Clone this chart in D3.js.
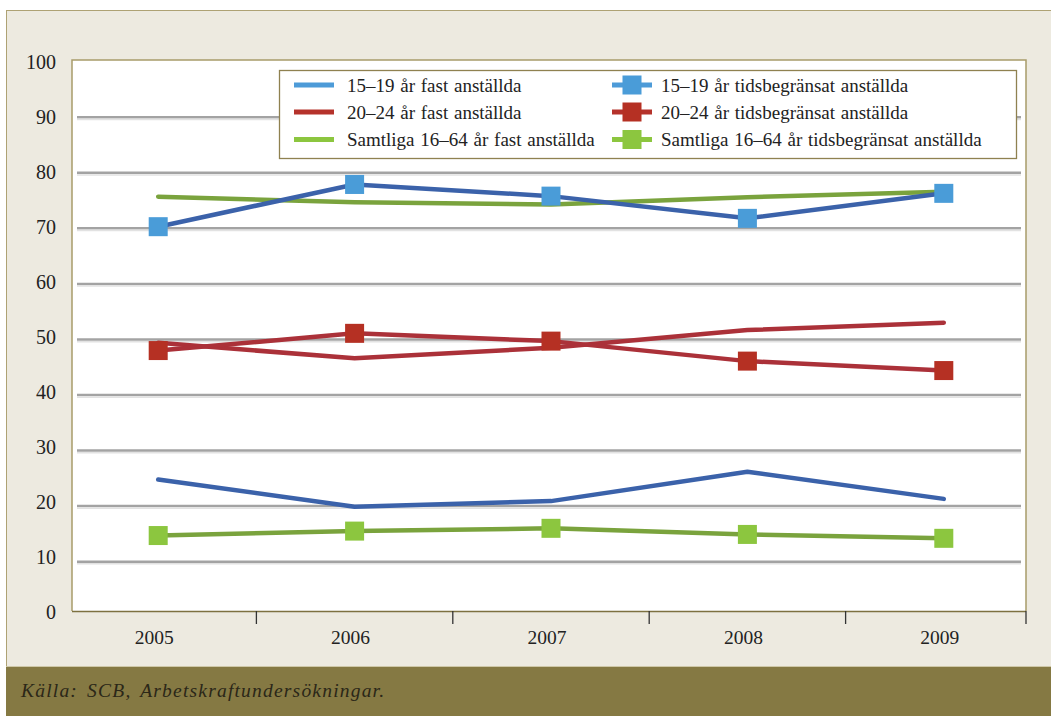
<!DOCTYPE html>
<html><head><meta charset="utf-8">
<script src="https://cdn.jsdelivr.net/npm/d3@7/dist/d3.min.js"></script>
<style>body{margin:0;background:#fff}svg{display:block}</style>
</head><body><svg id="c" width="1051" height="716"></svg>
<script>
const years = ["2005","2006","2007","2008","2009"];
const yTicks = [0,10,20,30,40,50,60,70,80,90,100];
const fast1519 = [24.8, 19.9, 20.9, 26.2, 21.3];
const tids1519 = [70.3, 77.9, 75.8, 71.8, 76.3];
const fast2024 = [49.4, 46.6, 48.5, 51.7, 53.0];
const tids2024 = [48.0, 51.1, 49.7, 46.1, 44.4];
const fastAll = [75.7, 74.7, 74.3, 75.6, 76.6];
const tidsAll = [14.7, 15.5, 16.0, 14.9, 14.2];
const seriesNames = ["15–19 år fast anställda","20–24 år fast anställda","Samtliga 16–64 år fast anställda",
  "15–19 år tidsbegränsat anställda","20–24 år tidsbegränsat anställda","Samtliga 16–64 år tidsbegränsat anställda"];
const source = "Källa: SCB, Arbetskraftundersökningar.";

const series = [
  {name: seriesNames[0], values: fast1519, line:"#3b62aa", leg:"#4d9bd8", marker:false},
  {name: seriesNames[1], values: fast2024, line:"#ab3139", leg:"#b5322b", marker:false},
  {name: seriesNames[2], values: fastAll, line:"#7aa33d", leg:"#8cc63f", marker:false},
  {name: seriesNames[3], values: tids1519, line:"#3b62aa", leg:"#4d9bd8", mk:"#4a9cd8", marker:true},
  {name: seriesNames[4], values: tids2024, line:"#ab3139", leg:"#b5322b", mk:"#b53023", marker:true},
  {name: seriesNames[5], values: tidsAll, line:"#7aa33d", leg:"#8cc63f", mk:"#8cc63f", marker:true}
];

const svg = d3.select("#c");
const font = "'Liberation Serif', 'Times New Roman', serif";

// background panel
svg.append("rect").attr("x",6.5).attr("y",10.5).attr("width",1060).attr("height",660)
  .attr("fill","#edeae0").attr("stroke","#aea274").attr("stroke-width",1);
// footer
svg.append("rect").attr("x",6).attr("y",667).attr("width",1045).attr("height",49).attr("fill","#857943");
svg.append("line").attr("x1",6).attr("x2",1051).attr("y1",666.5).attr("y2",666.5).attr("stroke","#cfc8a8");
svg.append("text").attr("x",21).attr("y",697).attr("font-family",font).attr("font-style","italic")
  .attr("font-size",19.5).attr("letter-spacing",1.2).attr("word-spacing",3).attr("fill","#2b2718").text(source);

const plot = {l:72, t:60, r:1026, b:611};
svg.append("rect").attr("x",plot.l).attr("y",plot.t).attr("width",plot.r-plot.l).attr("height",plot.b-plot.t)
  .attr("fill","#fff");
svg.append("path").attr("d",`M${plot.l},${plot.b}V${plot.t}H${plot.r}V${plot.b}`)
  .attr("fill","none").attr("stroke","#a89c6a").attr("stroke-width",1.5);

const y = d3.scaleLinear().domain([0,100]).range([617.2, 61.7]);
const yLab = d3.scaleLinear().domain([0,100]).range([612, 62]);
const x = d3.scaleBand().domain(years).range([60, 1042]).paddingInner(0).paddingOuter(0);
const cx = d => x(d) + x.bandwidth()/2;

// gridlines
const g = svg.append("g");
g.selectAll("line.grid").data(yTicks.filter(v=>v>0 && v<100)).join("line")
  .attr("x1",77).attr("x2",1021).attr("y1",d=>y(d)).attr("y2",d=>y(d))
  .attr("stroke","#a3a3a3").attr("stroke-width",2.5);
g.selectAll("line.grid2").data(yTicks.filter(v=>v>0 && v<100)).join("line")
  .attr("x1",77).attr("x2",1021).attr("y1",d=>y(d)+2.2).attr("y2",d=>y(d)+2.2)
  .attr("stroke","#e2e2e2").attr("stroke-width",1.5);

// y labels
svg.selectAll("text.yl").data(yTicks).join("text")
  .attr("x",56).attr("y",d=>yLab(d)).attr("dy","0.35em").attr("text-anchor","end")
  .attr("font-family",font).attr("font-size",20).attr("fill","#222").text(d=>d);

// x axis
svg.append("line").attr("x1",plot.l).attr("x2",plot.r).attr("y1",plot.b+0.5).attr("y2",plot.b+0.5)
  .attr("stroke","#7d7140").attr("stroke-width",1.5);
const tickX = years.slice(1).map(d=>x(d)).concat([plot.r]);
svg.selectAll("line.xt").data(tickX).join("line")
  .attr("x1",d=>d).attr("x2",d=>d).attr("y1",plot.b).attr("y2",plot.b+13)
  .attr("stroke","#333").attr("stroke-width",1.3);
svg.selectAll("text.xl").data(years).join("text")
  .attr("x",d=>cx(d)-4).attr("y",637).attr("dy","0.35em").attr("text-anchor","middle")
  .attr("font-family",font).attr("font-size",19.5).attr("fill","#222").text(d=>d);

// lines
const line = d3.line().x((d,i)=>cx(years[i])).y(d=>y(d));
series.forEach(s=>{
  svg.append("path").datum(s.values).attr("d",line).attr("fill","none")
    .attr("stroke",s.line).attr("stroke-width",4.5).attr("stroke-linejoin","round").attr("stroke-linecap","round");
});
series.filter(s=>s.marker).forEach(s=>{
  svg.append("g").selectAll("rect").data(s.values).join("rect")
    .attr("x",(d,i)=>cx(years[i])-9.5).attr("y",d=>y(d)-9.5).attr("width",19).attr("height",19)
    .attr("fill",s.mk);
});

// legend
const leg = svg.append("g");
leg.append("rect").attr("x",279.5).attr("y",70.5).attr("width",737).attr("height",88)
  .attr("fill","#fff").attr("stroke","#8f8150").attr("stroke-width",1.3);
const rowsY = [85, 112, 139.5];
series.forEach((s,i)=>{
  const col = i<3 ? 0 : 1, row = i%3;
  const yy = rowsY[row];
  const x0 = col===0 ? 294 : 612;
  leg.append("line").attr("x1",x0).attr("x2",x0+40).attr("y1",yy).attr("y2",yy)
    .attr("stroke",s.leg).attr("stroke-width",5);
  if (s.marker) {
    leg.append("rect").attr("x",x0+10.5).attr("y",yy-9.5).attr("width",19).attr("height",19).attr("fill",s.mk);
  }
  leg.append("text").attr("x",col===0?347:661).attr("y",yy).attr("dy","0.35em")
    .attr("font-family",font).attr("font-size",19).attr("word-spacing",1).attr("fill","#222").text(s.name);
});
</script></body></html>
